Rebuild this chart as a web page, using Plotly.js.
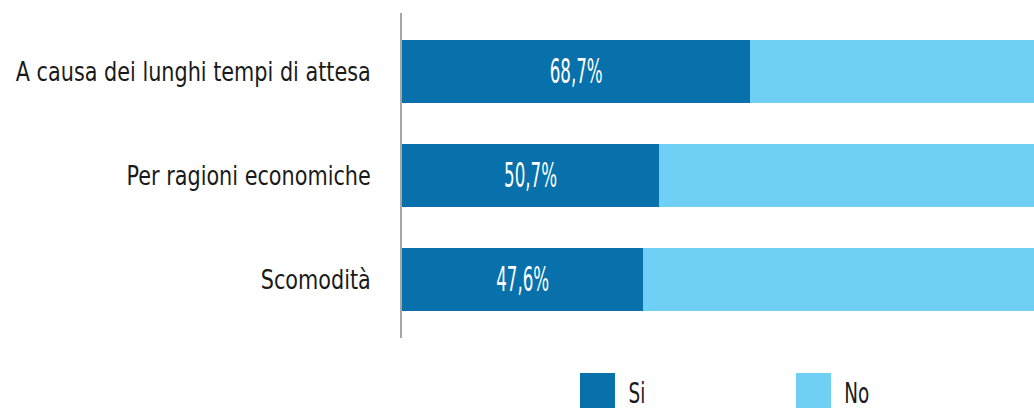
<!DOCTYPE html>
<html><head><meta charset="utf-8">
<script src="https://cdn.plot.ly/plotly-3.0.1.min.js"></script>
<style>html,body{margin:0;padding:0;background:#fff}</style>
</head><body>
<div id="chart" style="width:1034px;height:409px"></div>
<script>
const categories = ["A causa dei lunghi tempi di attesa", "Per ragioni economiche", "Scomodità"];
const siValues = [68.7, 50.7, 47.6];
const noValues = [56.0, 74.0, 77.1];
const seriesNames = ["Si", "No"];
const colors = ["#0870AA", "#6FCFF5"];
const FONT = '"DejaVu Sans Condensed", "DejaVu Sans", sans-serif';

const traces = [
  {type:'bar', orientation:'h', name:seriesNames[0], y:categories, x:siValues,
   marker:{color:colors[0]}, texttemplate:'%{x:.1f}%', textposition:'inside',
   insidetextanchor:'middle', textfont:{color:'#ffffff', family:FONT, size:33},
   hoverinfo:'skip'},
  {type:'bar', orientation:'h', name:seriesNames[1], y:categories, x:noValues,
   marker:{color:colors[1]}, textposition:'none', hoverinfo:'skip'}
];

const layout = {
  width:1034, height:409,
  margin:{l:402, r:0, t:13, b:71},
  barmode:'stack', bargap:0.4,
  separators:',.',
  showlegend:false,
  paper_bgcolor:'#fff', plot_bgcolor:'#fff',
  font:{family:FONT, color:'#1a1a1a'},
  xaxis:{range:[0,124.6], visible:false, fixedrange:true},
  yaxis:{type:'category', range:[2.5625,-0.5625], showline:true, linecolor:'#A6A6A6', linewidth:2,
         ticks:'', ticklabelstandoff:24, tickfont:{family:FONT, size:26, color:'#1a1a1a'},
         showgrid:false, zeroline:false, fixedrange:true},
  shapes:[
    {type:'rect', xref:'paper', yref:'paper', x0:0.2816, x1:0.337, y0:-0.2154, y1:-0.1077,
     fillcolor:colors[0], line:{width:0}},
    {type:'rect', xref:'paper', yref:'paper', x0:0.6234, x1:0.6788, y0:-0.2154, y1:-0.1077,
     fillcolor:colors[1], line:{width:0}}
  ],
  annotations:[
    {xref:'paper', yref:'paper', x:0.35, y:-0.168, xanchor:'left', yanchor:'middle', showarrow:false,
     text:seriesNames[0], font:{family:FONT, size:29, color:'#1a1a1a'}},
    {xref:'paper', yref:'paper', x:0.689, y:-0.168, xanchor:'left', yanchor:'middle', showarrow:false,
     text:seriesNames[1], font:{family:FONT, size:29, color:'#1a1a1a'}}
  ]
};

function squeeze(nodes, refText, refWidth){
  nodes = Array.from(nodes);
  const ref = nodes.find(n => n.textContent === refText);
  if(!ref) return;
  const f = refWidth / ref.getComputedTextLength();
  nodes.forEach(n => {
    const w = n.getComputedTextLength();
    n.setAttribute('lengthAdjust', 'spacingAndGlyphs');
    n.setAttribute('textLength', (w * f).toFixed(1));
  });
}

Plotly.newPlot('chart', traces, layout, {displayModeBar:false, staticPlot:true}).then(gd => {
  squeeze(gd.querySelectorAll('.ytick text'), categories[0], 355);
  squeeze(gd.querySelectorAll('text.bartext'), '68,7%', 53);
  squeeze(gd.querySelectorAll('.annotation-text'), seriesNames[1], 25);
});
</script>
</body></html>
